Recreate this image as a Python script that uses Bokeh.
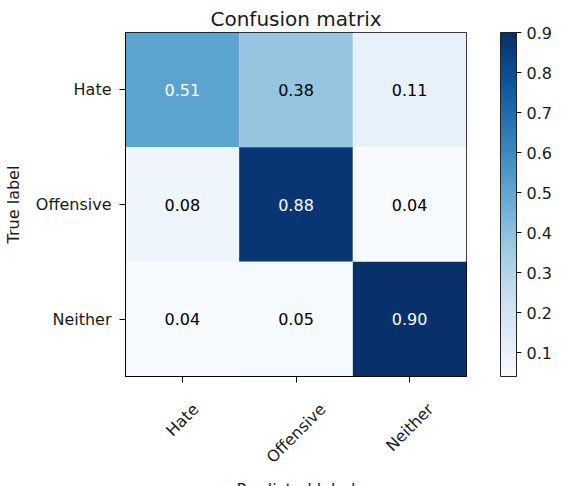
import math
from bokeh.plotting import figure
from bokeh.models import (ColumnDataSource, LinearColorMapper, ColorBar, FixedTicker,
                          FactorRange, CustomLabelingPolicy, AllLabels, Range1d, LinearAxis)
from bokeh.palettes import Blues256
from bokeh.core.properties import value
from bokeh.embed import file_html
from bokeh.resources import INLINE

classes = ["Hate", "Offensive", "Neither"]
row_hate = [0.51, 0.38, 0.11]
row_offensive = [0.08, 0.88, 0.04]
row_neither = [0.04, 0.05, 0.90]
colorbar_ticks = [0.1, 0.2, 0.3, 0.4, 0.5, 0.6, 0.7, 0.8, 0.9]

matrix = [row_hate, row_offensive, row_neither]
vmin = min(min(r) for r in matrix)
vmax = max(max(r) for r in matrix)
thresh = vmax / 2.0

FONT = "DejaVu Sans"
FS = 16
TXT = "#1a1a1a"
FRAME_W, FRAME_H = 341, 344

# predicted classes sit at index + 0.5 on a numeric x range (one unit per class)
xs, ys, vals, labels, tcolors = [], [], [], [], []
for i, true_lab in enumerate(classes):
    for j, pred_lab in enumerate(classes):
        v = matrix[i][j]
        xs.append(j + 0.5)
        ys.append(true_lab)
        vals.append(v)
        labels.append(f"{v:.2f}")
        tcolors.append("white" if v > thresh else "black")

src = ColumnDataSource(dict(x=xs, y=ys, v=vals, label=labels, tc=tcolors))
mapper = LinearColorMapper(palette=list(Blues256[::-1]), low=vmin, high=vmax)

p = figure(frame_width=FRAME_W, frame_height=FRAME_H, output_backend="svg",
           toolbar_location=None, x_axis_type=None,
           x_range=Range1d(0, len(classes)), y_range=FactorRange(*classes[::-1]),
           title="Confusion matrix", min_border_left=121, min_border_right=86,
           min_border_top=32, min_border_bottom=94)
p.title.align = "center"
p.title.text_font = FONT
p.title.text_font_size = "20px"
p.title.text_font_style = "normal"
p.title.text_color = TXT
p.title.standoff = 4

p.rect(x="x", y="y", width=1, height=1, source=src,
       fill_color={"field": "v", "transform": mapper}, line_color=None)
p.text(x="x", y="y", text="label", source=src, text_color="tc",
       text_align="center", text_baseline="middle", text_font_size=f"{FS}px",
       text_font=value(FONT))

# x axis with ticks only (labels drawn by the second axis below)
tick_axis = LinearAxis(ticker=FixedTicker(ticks=[j + 0.5 for j in range(len(classes))]),
                       major_label_policy=CustomLabelingPolicy(
                           code="for (let i = 0; i < indices.size; i++) { indices.unset(i) }\nreturn indices"),
                       major_label_standoff=0, axis_line_color="black",
                       major_tick_out=6, major_tick_in=0, major_tick_line_color="black",
                       minor_tick_line_color=None,
                       major_label_text_font=FONT, major_label_text_font_size=f"{FS}px")
p.add_layout(tick_axis, "below")

# rotated tick labels placed like matplotlib's (bounding box centred under the tick)
CHAR_W = {"H": .752, "a": .613, "t": .392, "e": .615, "O": .787, "f": .352, "n": .634,
          "s": .521, "i": .278, "v": .592, "N": .748, "h": .634, "r": .411}
ang = math.pi / 4
cell_w = FRAME_W / len(classes)
lab_ticks, lab_over = [], {}
for idx, c in enumerate(classes):
    w = sum(CHAR_W.get(ch, 0.6) for ch in c) * FS
    pos = round(idx + 0.5 + (w * math.cos(ang) / 2) / cell_w, 4)
    lab_ticks.append(pos)
    lab_over[pos] = c
lab_axis = LinearAxis(ticker=FixedTicker(ticks=lab_ticks),
                      major_label_overrides=lab_over, major_label_orientation=ang,
                      major_label_policy=AllLabels(),
                      axis_line_color=None, major_tick_line_color=None,
                      minor_tick_line_color=None, major_tick_out=0, major_tick_in=0,
                      major_label_standoff=9,
                      major_label_text_font=FONT, major_label_text_font_size=f"{FS}px",
                      major_label_text_color=TXT,
                      axis_label="Predicted label", axis_label_standoff=4,
                      axis_label_text_font=FONT, axis_label_text_font_size=f"{FS}px",
                      axis_label_text_font_style="normal", axis_label_text_color=TXT)
p.add_layout(lab_axis, "below")

p.grid.visible = False
p.outline_line_color = "black"
p.outline_line_width = 1
ya = p.yaxis[0]
ya.axis_line_color = "black"
ya.major_tick_out = 6
ya.major_tick_in = 0
ya.major_tick_line_color = "black"
ya.minor_tick_line_color = None
ya.major_label_text_font = FONT
ya.major_label_text_font_size = f"{FS}px"
ya.major_label_text_color = TXT
ya.major_label_standoff = 8
ya.axis_label = "True label"
ya.axis_label_standoff = 10
ya.axis_label_text_font = FONT
ya.axis_label_text_font_size = f"{FS}px"
ya.axis_label_text_font_style = "normal"
ya.axis_label_text_color = TXT
p.y_range.range_padding = 0

cb = ColorBar(color_mapper=mapper, ticker=FixedTicker(ticks=colorbar_ticks),
              width=16, height=FRAME_H, padding=0, margin=0,
              location=(34, 0), major_tick_in=0, major_tick_out=5,
              major_tick_line_color="black", bar_line_color="#222222",
              label_standoff=5,
              major_label_text_font=FONT, major_label_text_font_size=f"{FS}px",
              major_label_text_color=TXT, border_line_color=None,
              background_fill_color=None)
p.add_layout(cb, "right")

open("out.html", "w").write(file_html(p, INLINE))
